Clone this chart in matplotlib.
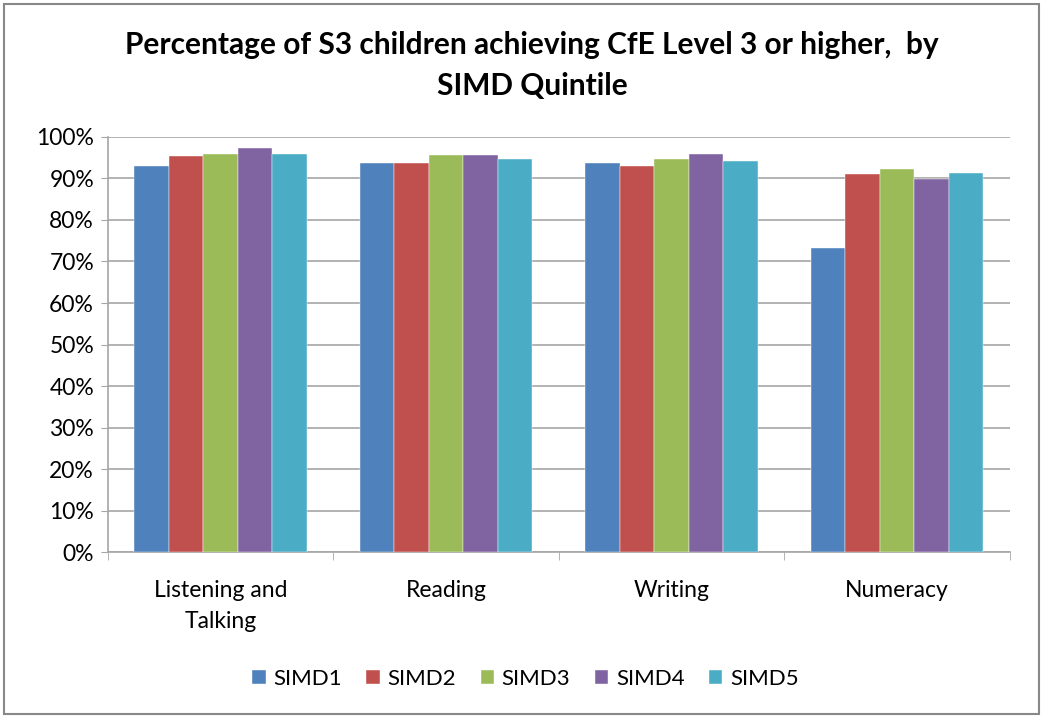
import numpy as np
import matplotlib.pyplot as plt
from matplotlib.patches import Rectangle
from matplotlib.ticker import PercentFormatter

categories = ['Listening and\nTalking', 'Reading', 'Writing', 'Numeracy']
series = ['SIMD1', 'SIMD2', 'SIMD3', 'SIMD4', 'SIMD5']
simd1 = [93.0, 93.8, 93.8, 73.2]
simd2 = [95.4, 93.8, 93.0, 91.0]
simd3 = [96.0, 95.7, 94.7, 92.2]
simd4 = [97.3, 95.7, 96.0, 89.8]
simd5 = [96.0, 94.8, 94.2, 91.4]
colors = ['#4F81BD', '#C0504D', '#9BBB59', '#8064A2', '#4BACC6']

plt.rcParams['font.family'] = ['Lato', 'DejaVu Sans']

fig = plt.figure(figsize=(10.43, 7.17), dpi=100)
ax = fig.add_axes([0.1035, 0.230, 0.8645, 0.579])

x = np.arange(len(categories))
w = 0.153
for i, (name, vals) in enumerate(zip(series, [simd1, simd2, simd3, simd4, simd5])):
    ax.bar(x + (i - 2) * w, vals, width=w, color=colors[i], label=name,
           edgecolor='white', linewidth=0.3, zorder=3)

ax.set_xlim(-0.5, len(categories) - 0.5)
ax.set_ylim(0, 100)
ax.set_yticks(np.arange(0, 101, 10))
ax.yaxis.set_major_formatter(PercentFormatter(decimals=0))
ax.yaxis.grid(True, color='#A6A6A6', linewidth=1.2, zorder=0)
ax.set_xticks(x)
ax.set_xticklabels(categories, fontsize=16.5, linespacing=1.6)
ax.tick_params(axis='x', length=0, pad=20)
ax.set_xticks(np.arange(-0.5, len(categories)), minor=True)
ax.tick_params(axis='x', which='minor', length=6, color='#A6A6A6')
ax.tick_params(axis='y', labelsize=16.5, length=5, color='#A6A6A6', pad=5)
for s in ['top', 'right']:
    ax.spines[s].set_visible(False)
for s in ['left', 'bottom']:
    ax.spines[s].set_color('#A6A6A6')
    ax.spines[s].set_linewidth(1.2)

fig.text(0.510, 0.909, 'Percentage of S3 children achieving CfE Level 3 or higher,  by\nSIMD Quintile',
         ha='center', va='center', fontsize=21.5, fontweight='bold', linespacing=1.55)

ax.legend(loc='center', bbox_to_anchor=(0.463, -0.305), ncol=5, frameon=False,
          fontsize=16, handlelength=0.6, handleheight=0.6, handletextpad=0.35,
          columnspacing=1.1)

fig.patches.append(Rectangle((0.004, 0.004), 0.992, 0.99, transform=fig.transFigure,
                             fill=False, edgecolor='#888888', linewidth=1.5))

fig.savefig('out.png', dpi=100)
